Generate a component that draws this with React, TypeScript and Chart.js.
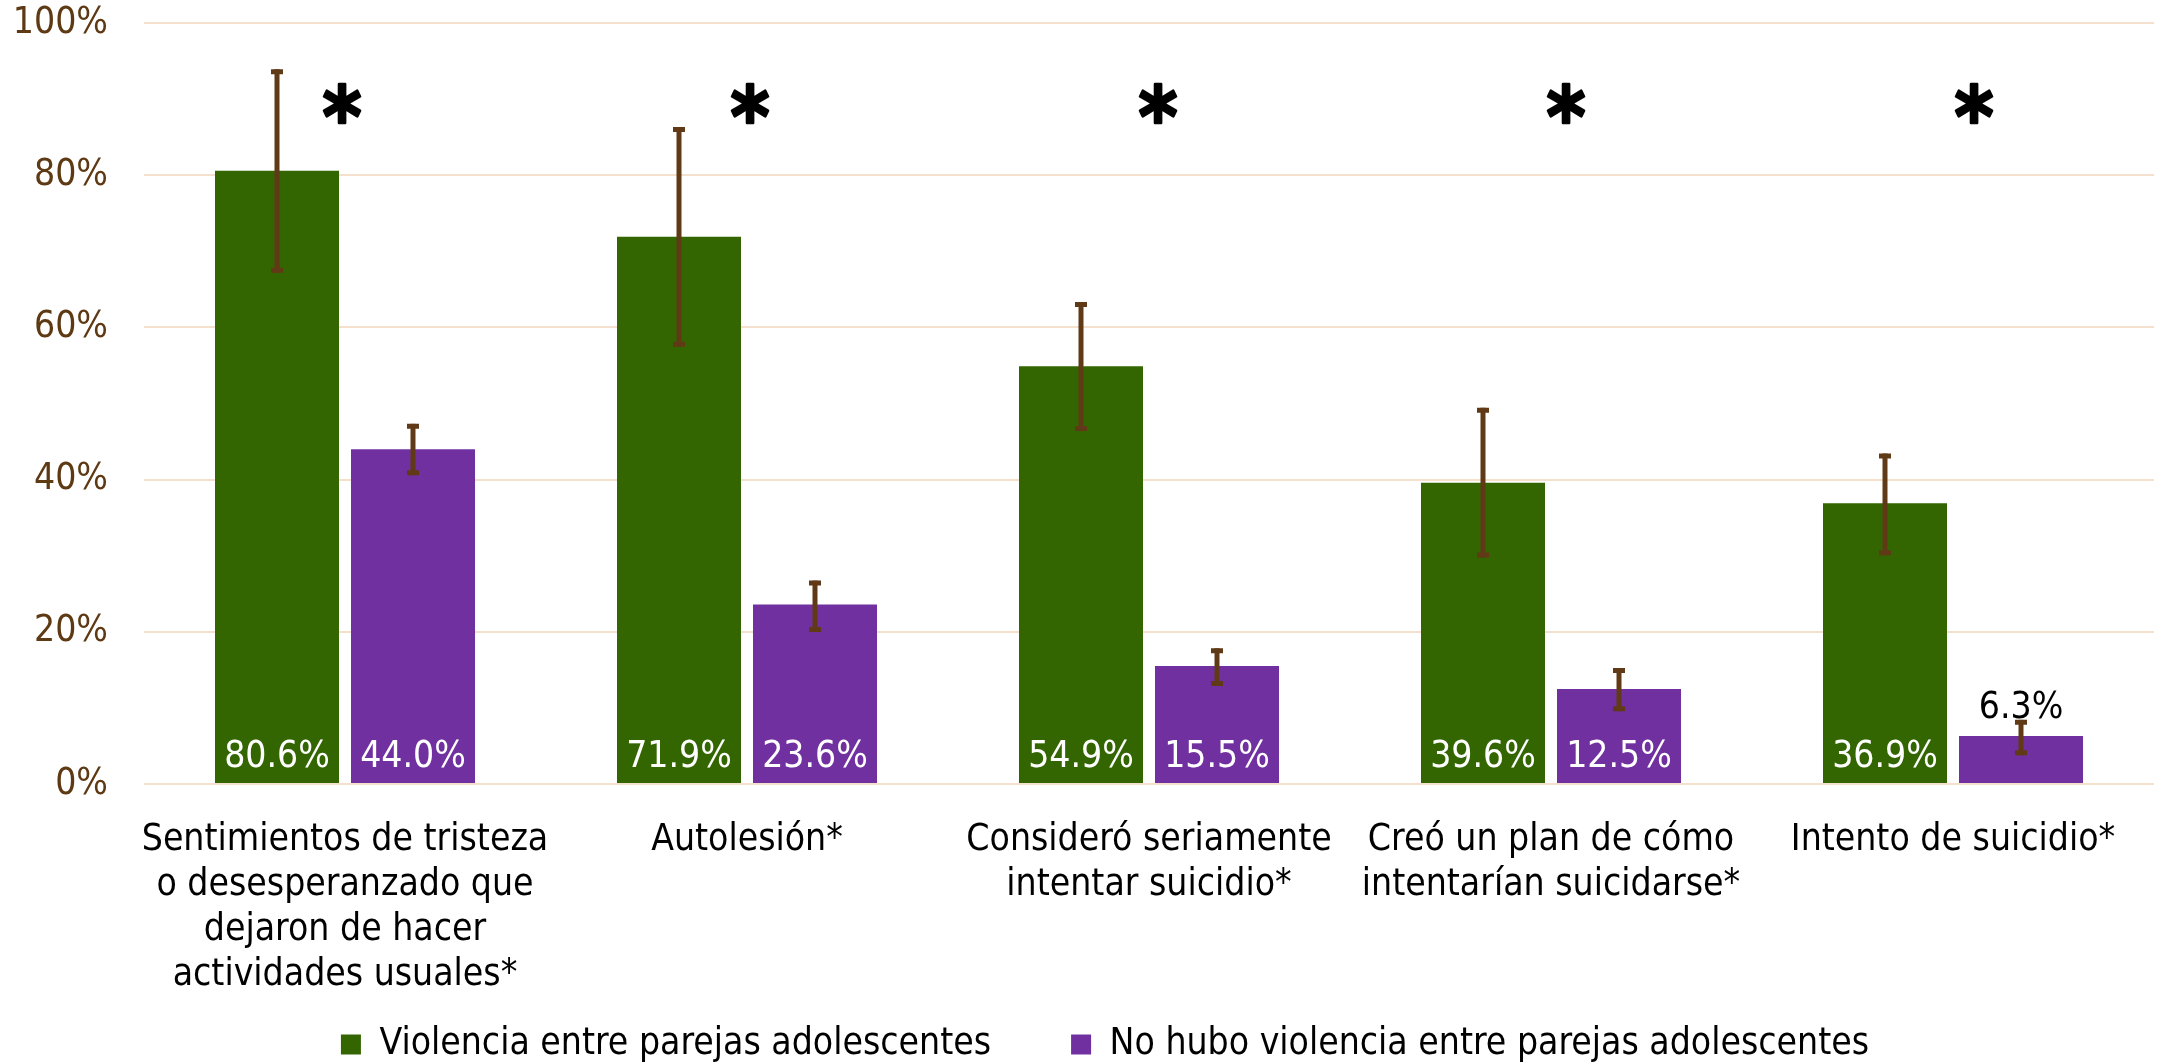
import React, { useEffect, useRef } from 'react';
import { Chart, registerables } from 'chart.js';

Chart.register(...registerables);

const categories: (string | string[])[] = [
  ['Sentimientos de tristeza', 'o desesperanzado que', 'dejaron de hacer', 'actividades usuales*'],
  'Autolesión*',
  ['Consideró seriamente', 'intentar suicidio*'],
  ['Creó un plan de cómo', 'intentarían suicidarse*'],
  'Intento de suicidio*',
];
const seriesNames = [
  'Violencia entre parejas adolescentes',
  'No hubo violencia entre parejas adolescentes',
];
const violencia = [80.6, 71.9, 54.9, 39.6, 36.9];
const noViolencia = [44.0, 23.6, 15.5, 12.5, 6.3];
const violenciaLow = [67.5, 57.8, 46.7, 30.1, 30.4];
const violenciaHigh = [93.6, 86.0, 63.0, 49.1, 43.1];
const noViolenciaLow = [40.9, 20.3, 13.2, 9.9, 4.1];
const noViolenciaHigh = [47.0, 26.4, 17.5, 14.9, 8.1];
const significant = [true, true, true, true, true];
const starLevel = 86.6;
const yMin = 0;
const yMax = 100;
const yStep = 20;

const FONT = "'DejaVu Sans Condensed', 'DejaVu Sans', sans-serif";
const GREEN = '#336600';
const PURPLE = '#7030A0';
const ERR = '#603A17';
const TICK_BROWN = '#5E3A14';
const GRID = '#F5E0CD';

const overlayPlugin = {
  id: 'overlay',
  afterLayout(chart: any) {
    // let the multi-line category labels draw below the axis box
    chart.scales.x.bottom = chart.height;
    // nudge the legend row to its place
    if (chart.legend) {
      chart.legend.left += 28;
      chart.legend.right += 28;
      chart.legend.top += 10;
      chart.legend.bottom += 10;
    }
  },
  afterDatasetsDraw(chart: any) {
    const ctx: CanvasRenderingContext2D = chart.ctx;
    const yScale = chart.scales.y;
    const lows = [violenciaLow, noViolenciaLow];
    const highs = [violenciaHigh, noViolenciaHigh];
    const values = [violencia, noViolencia];
    ctx.save();
    chart.data.datasets.forEach((_ds: any, di: number) => {
      const meta = chart.getDatasetMeta(di);
      meta.data.forEach((bar: any, i: number) => {
        const x = bar.x;
        const yl = yScale.getPixelForValue(lows[di][i]);
        const yh = yScale.getPixelForValue(highs[di][i]);
        ctx.strokeStyle = ERR;
        ctx.lineWidth = 5;
        ctx.lineCap = 'butt';
        ctx.beginPath();
        ctx.moveTo(x, yl + 2.5);
        ctx.lineTo(x, yh - 2.5);
        ctx.stroke();
        ctx.beginPath();
        ctx.moveTo(x - 6, yl);
        ctx.lineTo(x + 6, yl);
        ctx.moveTo(x - 6, yh);
        ctx.lineTo(x + 6, yh);
        ctx.stroke();
      });
    });
    ctx.font = `37px ${FONT}`;
    ctx.textAlign = 'center';
    ctx.textBaseline = 'middle';
    chart.data.datasets.forEach((_ds: any, di: number) => {
      const meta = chart.getDatasetMeta(di);
      meta.data.forEach((bar: any, i: number) => {
        const txt = values[di][i].toFixed(1) + '%';
        const h = bar.base - bar.y;
        if (h > 60) {
          ctx.fillStyle = '#FFFFFF';
          ctx.fillText(txt, bar.x, bar.base - 26);
        } else {
          ctx.fillStyle = '#000000';
          ctx.fillText(txt, bar.x, yScale.getPixelForValue(highs[di][i]) - 14);
        }
      });
    });
    // significance asterisks
    ctx.font = `bold 100px ${FONT}`;
    const m = ctx.measureText('*');
    const gh = m.actualBoundingBoxAscent + m.actualBoundingBoxDescent;
    const size = (100 * 39) / (gh || 39);
    ctx.font = `bold ${size}px ${FONT}`;
    const m2 = ctx.measureText('*');
    ctx.textBaseline = 'alphabetic';
    ctx.fillStyle = '#000000';
    ctx.strokeStyle = '#000000';
    ctx.lineWidth = 2.5;
    ctx.lineJoin = 'round';
    const cy = yScale.getPixelForValue(starLevel);
    const baseY = cy + (m2.actualBoundingBoxAscent - m2.actualBoundingBoxDescent) / 2;
    const xScale = chart.scales.x;
    significant.forEach((s, i) => {
      if (!s) return;
      const x = xScale.getPixelForValue(i) - 3 + 6 * i;
      ctx.fillText('*', x, baseY);
      ctx.strokeText('*', x, baseY);
    });
    ctx.restore();
  },
};

export default function App() {
  const ref = useRef<HTMLCanvasElement | null>(null);
  useEffect(() => {
    if (!ref.current) return;
    const chart = new Chart(ref.current, {
      type: 'bar',
      data: {
        labels: categories,
        datasets: [
          {
            label: seriesNames[0],
            data: violencia,
            backgroundColor: GREEN,
            borderWidth: 0,
            categoryPercentage: 0.6766,
            barPercentage: 0.9118,
          },
          {
            label: seriesNames[1],
            data: noViolencia,
            backgroundColor: PURPLE,
            borderWidth: 0,
            categoryPercentage: 0.6766,
            barPercentage: 0.9118,
          },
        ],
      },
      options: {
        animation: false,
        responsive: true,
        maintainAspectRatio: false,
        layout: { padding: { top: 23, right: 12, bottom: 0, left: 0 } },
        plugins: {
          legend: {
            position: 'bottom',
            labels: {
              boxWidth: 20,
              boxHeight: 20,
              padding: 80,
              color: '#000000',
              font: { family: FONT, size: 37 },
            },
          },
          tooltip: { enabled: false },
        },
        scales: {
          x: {
            grid: { display: false },
            border: { display: false },
            ticks: {
              color: '#000000',
              font: { family: FONT, size: 37, lineHeight: 45 / 37 },
              padding: 26,
              maxRotation: 0,
              minRotation: 0,
              autoSkip: false,
            },
            afterFit: (scale: any) => {
              scale.height = 152;
            },
          },
          y: {
            min: yMin,
            max: yMax,
            grid: {
              color: GRID,
              lineWidth: 2,
              drawTicks: true,
              tickLength: 36,
              tickColor: 'rgba(0,0,0,0)',
            },
            border: { display: false },
            ticks: {
              stepSize: yStep,
              color: TICK_BROWN,
              font: { family: FONT, size: 37 },
              padding: 0,
              callback: (v: any) => `${v}%`,
            },
            afterFit: (scale: any) => {
              scale.width = 144;
            },
          },
        },
      } as any,
      plugins: [overlayPlugin],
    });
    return () => chart.destroy();
  }, []);
  return (
    <div style={{ position: 'fixed', left: 0, top: 0, width: 2166, height: 1063, background: '#FFFFFF' }}>
      <canvas ref={ref} />
    </div>
  );
}
